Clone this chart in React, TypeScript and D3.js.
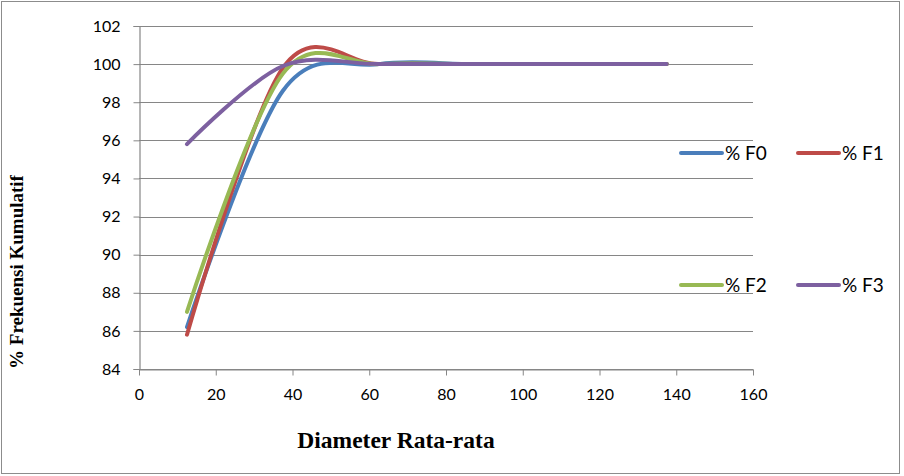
import React, { useEffect, useRef } from 'react';
import * as d3 from 'd3';

// diameter class midpoints
const diameters = [12.5, 37.5, 62.5, 87.5, 112.5, 137.5];

const seriesNames = ['% F0', '% F1', '% F2', '% F3'];
const f0 = [86.2, 98.6, 100, 100, 100, 100];
const f1 = [85.8, 99.8, 100, 100, 100, 100];
const f2 = [87.0, 99.5, 100, 100, 100, 100];
const f3 = [95.8, 99.9, 100, 100, 100, 100];
const seriesColors = ['#4a7ebb', '#be4b48', '#98b954', '#7d60a0'];

const xTicks = [0, 20, 40, 60, 80, 100, 120, 140, 160];
const yTicks = [84, 86, 88, 90, 92, 94, 96, 98, 100, 102];

const W = 904;
const H = 476;

export default function App() {
  const svgRef = useRef<SVGSVGElement>(null);

  useEffect(() => {
    if (!svgRef.current) return;
    const svg = d3.select(svgRef.current);
    svg.selectAll('*').remove();

    const plot = { left: 139, right: 753, top: 26, bottom: 369 };
    const x = d3.scaleLinear().domain([0, 160]).range([plot.left, plot.right]);
    const y = d3.scaleLinear().domain([84, 102]).range([plot.bottom, plot.top]);
    const tickFont = 'Lato, "Open Sans", sans-serif';
    const titleFont = '"Liberation Serif", "Times New Roman", serif';

    // outer chart border
    svg.append('rect')
      .attr('x', 1.5).attr('y', 1.5)
      .attr('width', 898).attr('height', 472)
      .attr('fill', '#fff')
      .attr('stroke', '#8c8c8c')
      .attr('stroke-width', 1);

    // horizontal gridlines
    svg.append('g')
      .selectAll('line')
      .data(yTicks)
      .join('line')
      .attr('x1', plot.left).attr('x2', plot.right)
      .attr('y1', d => Math.round(y(d)) + 0.5)
      .attr('y2', d => Math.round(y(d)) + 0.5)
      .attr('stroke', '#868686')
      .attr('stroke-width', 1.2);

    // y axis
    const yAxis = svg.append('g')
      .attr('transform', `translate(${plot.left + 0.5},0)`)
      .call(d3.axisLeft(y).tickValues(yTicks).tickSize(6).tickPadding(13));
    yAxis.select('.domain').attr('stroke', '#868686').attr('stroke-width', 1.2);
    yAxis.selectAll('.tick line').attr('stroke', '#868686');
    yAxis.selectAll('.tick text')
      .attr('font-family', tickFont)
      .attr('font-size', 16)
      .attr('fill', '#000');

    // x axis
    const xAxis = svg.append('g')
      .attr('transform', `translate(0,${plot.bottom + 0.5})`)
      .call(d3.axisBottom(x).tickValues(xTicks).tickSize(6).tickSizeOuter(0).tickPadding(13));
    xAxis.select('.domain').attr('stroke', '#868686').attr('stroke-width', 1.2);
    xAxis.selectAll('.tick line').attr('stroke', '#868686');
    xAxis.selectAll('.tick text')
      .attr('font-family', tickFont)
      .attr('font-size', 16)
      .attr('fill', '#000');

    // smoothed series lines
    const allSeries = [f0, f1, f2, f3];
    const line = d3.line<number>()
      .x((_, i) => x(diameters[i]))
      .y(d => y(d))
      .curve(d3.curveCardinal.tension(0));

    allSeries.forEach((vals, i) => {
      svg.append('path')
        .datum(vals)
        .attr('fill', 'none')
        .attr('stroke', seriesColors[i])
        .attr('stroke-width', 4)
        .attr('stroke-linecap', 'round')
        .attr('d', line);
    });

    // legend (2 x 2)
    const legendPos = [
      { x: 681, y: 153 }, { x: 798, y: 153 },
      { x: 681, y: 285 }, { x: 798, y: 285 },
    ];
    seriesNames.forEach((name, i) => {
      const p = legendPos[i];
      svg.append('line')
        .attr('x1', p.x).attr('x2', p.x + 41)
        .attr('y1', p.y).attr('y2', p.y)
        .attr('stroke', seriesColors[i])
        .attr('stroke-width', 4)
        .attr('stroke-linecap', 'round');
      svg.append('text')
        .attr('x', p.x + 44)
        .attr('y', p.y + 7)
        .attr('font-family', tickFont)
        .attr('font-size', 19)
        .attr('fill', '#000')
        .text(name);
    });

    // axis titles
    svg.append('text')
      .attr('x', 396)
      .attr('y', 448)
      .attr('text-anchor', 'middle')
      .attr('font-family', titleFont)
      .attr('font-weight', 'bold')
      .attr('font-size', 23.5)
      .text('Diameter Rata-rata');

    svg.append('text')
      .attr('transform', 'translate(23,272) rotate(-90)')
      .attr('text-anchor', 'middle')
      .attr('font-family', titleFont)
      .attr('font-weight', 'bold')
      .attr('font-size', 19)
      .text('% Frekuensi Kumulatif');
  }, []);

  return (
    <svg
      ref={svgRef}
      width={W}
      height={H}
      style={{ position: 'absolute', left: 0, top: 0, background: '#fff' }}
    />
  );
}
